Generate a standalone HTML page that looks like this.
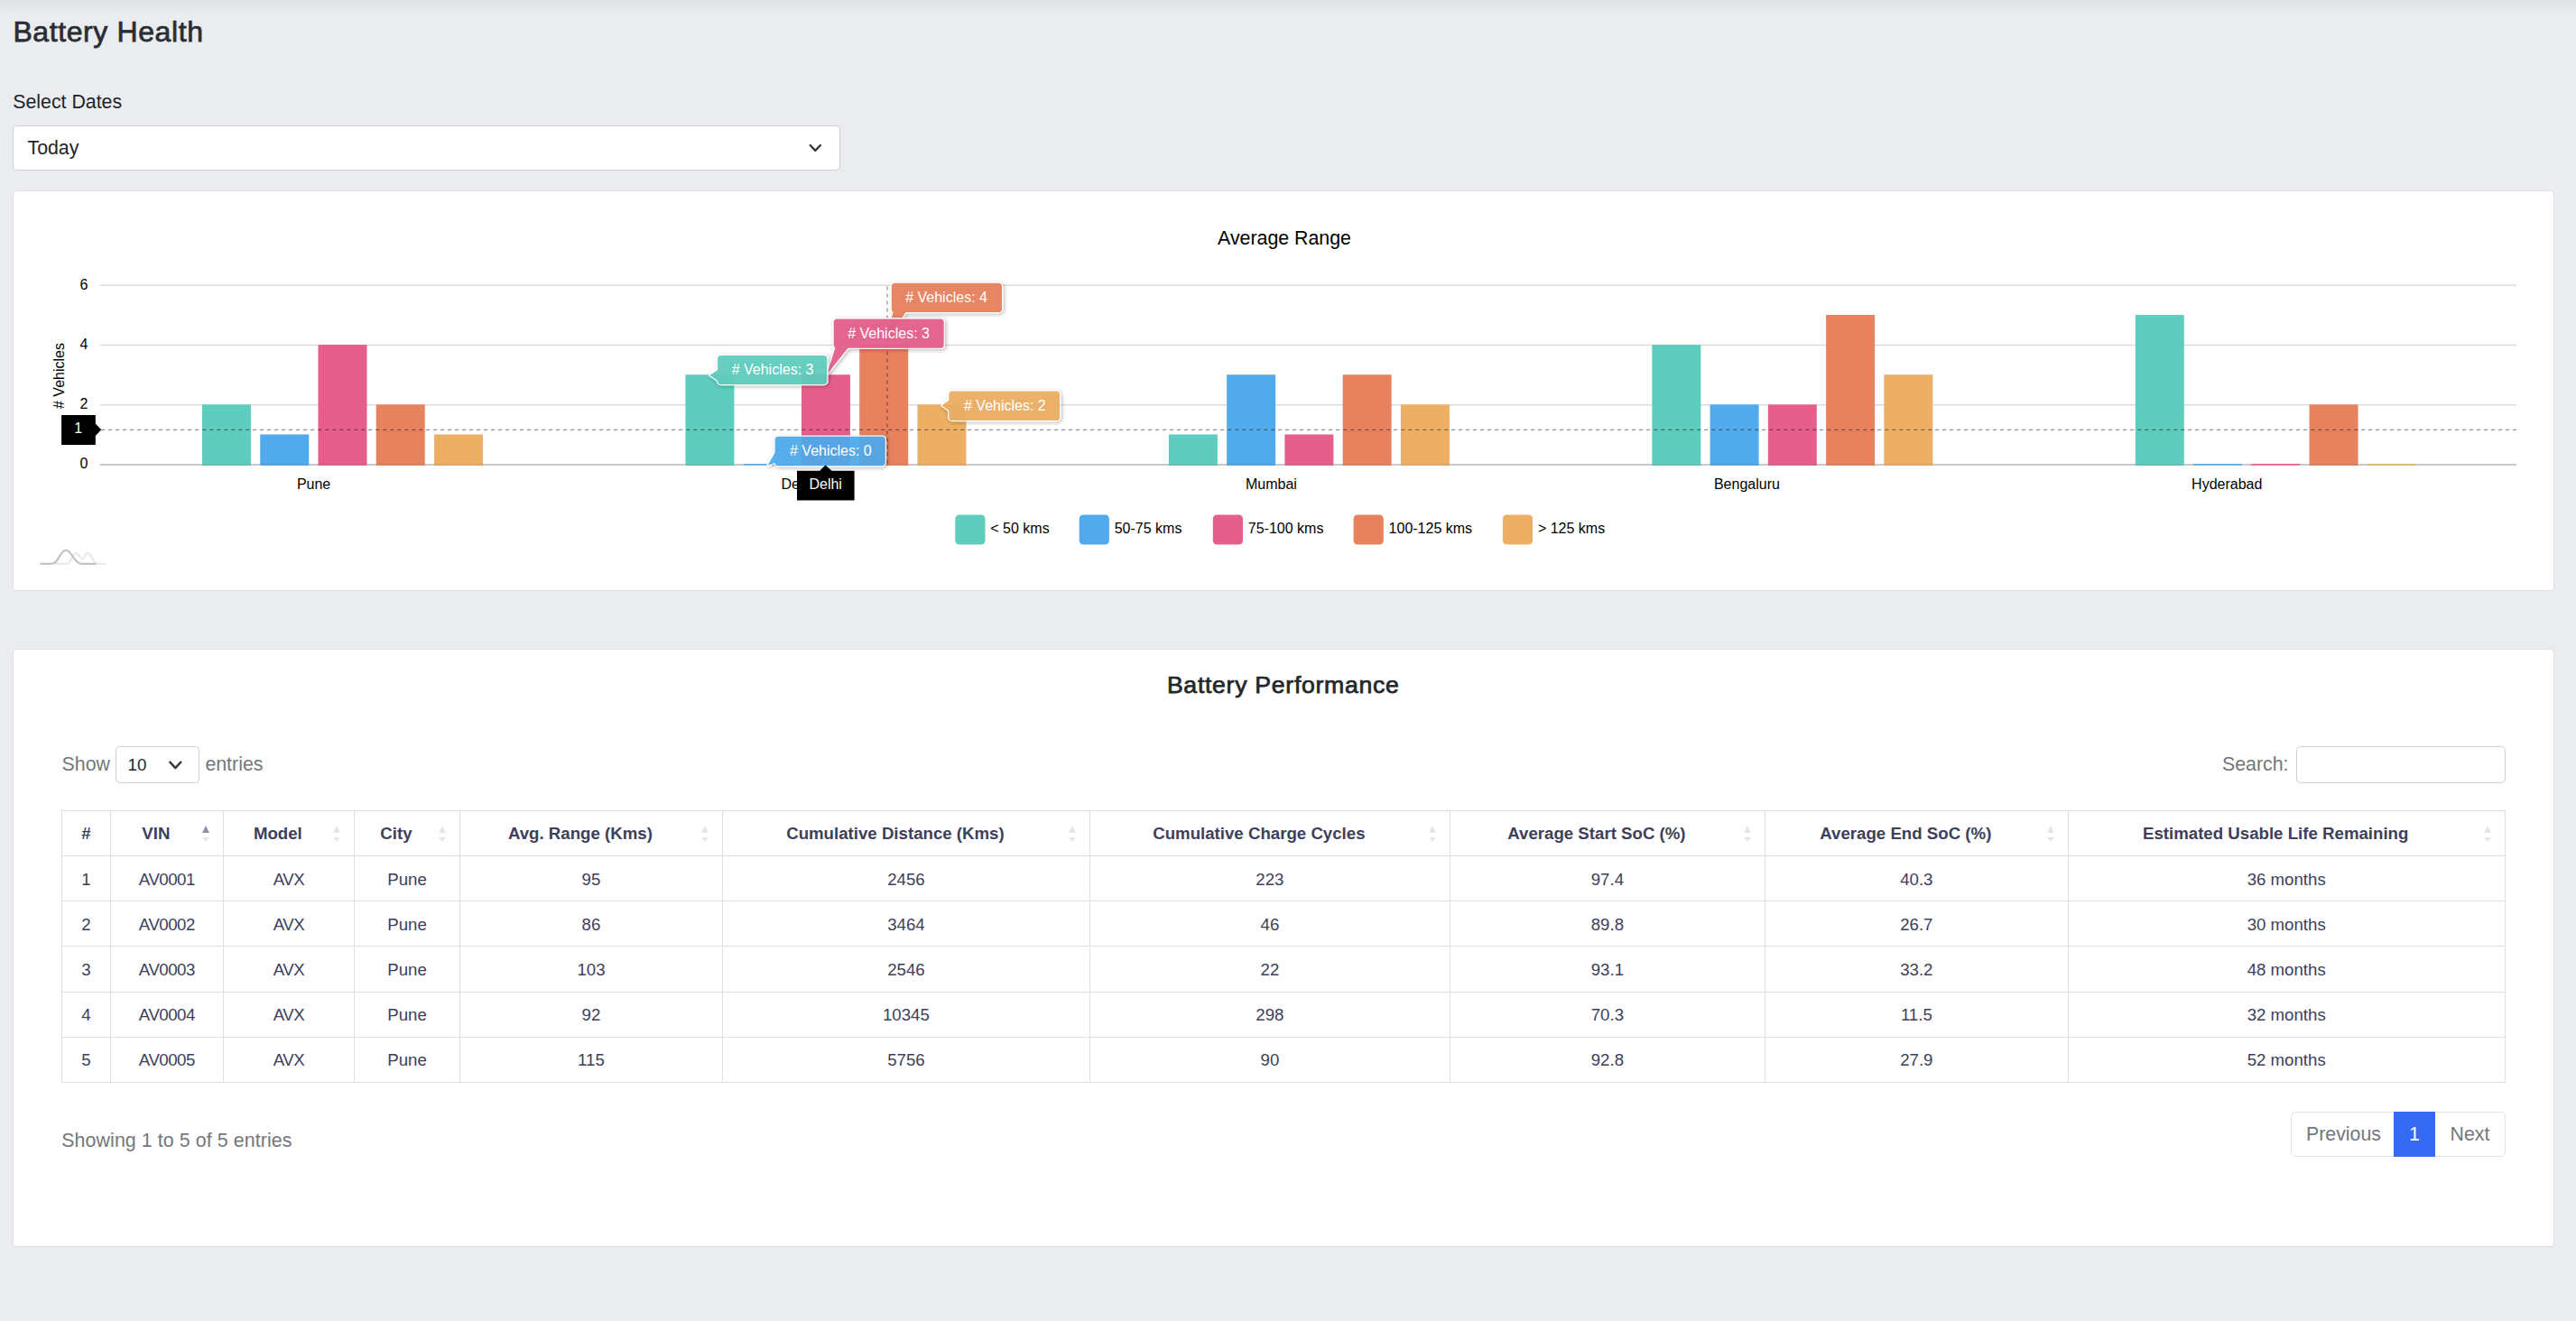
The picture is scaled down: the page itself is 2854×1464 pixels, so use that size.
<!DOCTYPE html>
<html lang="en"><head><meta charset="utf-8"><title>Battery Health</title>
<style>
html,body{margin:0;padding:0}
body{width:2854px;height:1464px;overflow:hidden;background:#ebecf0;font-family:"Liberation Sans",sans-serif;position:relative;color:#212529}
.abs,.th,.td,.hl,.vl,.su,.sd{position:absolute;white-space:nowrap}
.topshadow{left:0;top:0;width:2854px;height:16px;background:linear-gradient(#e0e1e4,#ebecf0)}
h1{position:absolute;margin:0;left:14.4px;top:15.4px;font-size:32px;line-height:40px;font-weight:normal;color:#2a2e34;-webkit-text-stroke:0.75px #2a2e34;letter-spacing:0.6px;white-space:nowrap}
.lbl{left:14.2px;top:99px;font-size:21.33px;line-height:28px;color:#212529}
.sel{left:13.9px;top:138.8px;width:917px;height:50.3px;box-sizing:border-box;border:1.33px solid #cdd1d6;border-radius:5.3px;background:#fff}
.sel span{position:absolute;left:15.6px;top:9.9px;font-size:21.33px;line-height:28px;color:#212529}
.card{box-sizing:border-box;background:#fff;border:1.33px solid #dfe1e6;border-radius:4.6px}
svg text.ct{font-family:"Liberation Sans",sans-serif;font-size:16px;fill:#000}
.h5{left:0;width:2843.5px;text-align:center;top:741.6px;font-size:26.67px;line-height:34px;font-weight:normal;color:#23272b;-webkit-text-stroke:0.75px #23272b;letter-spacing:0.7px}
.gray{color:#73777b;font-size:21.33px;line-height:28px}
.hl{left:67.7px;width:2708px;height:1.2px;background:#dedfe3}
.vl{top:898.25px;height:301.3px;width:1.2px;background:#dedfe3}
.th{top:909.5px;text-align:center;font-weight:bold;font-size:18.67px;line-height:28px;color:#3e4059}
.td{text-align:center;font-size:18.67px;line-height:28px;color:#3e4059}
.su{top:914.6px;width:0;height:0;border-left:4.2px solid transparent;border-right:4.2px solid transparent;border-bottom:8.4px solid #e6e6ea}
.su.act{border-bottom-color:#8f90a3}
.sd{top:927.5px;width:0;height:0;border-left:4.2px solid transparent;border-right:4.2px solid transparent;border-top:5.5px solid #e6e6ea}
.inp{box-sizing:border-box;background:#fff;border:1.33px solid #cdd1d6;border-radius:4.5px}
.pg{left:2538.4px;top:1232px;width:237.6px;height:50px;box-sizing:border-box;border:1.33px solid #dee2e6;border-radius:5.3px;background:#fff}
.pg1{left:2652px;top:1232px;width:45.8px;height:50px;background:#336af1;color:#fff;font-size:21.33px;line-height:50px;text-align:center}
</style></head>
<body>
<div class="abs topshadow"></div>
<h1>Battery Health</h1>
<div class="abs lbl">Select Dates</div>
<div class="abs sel"><span>Today</span>
<svg class="abs" style="left:878px;top:16.4px" width="20" height="16" viewBox="0 0 20 16"><path d="M4.7 5L10.3 10.8L15.9 5" fill="none" stroke="#343a40" stroke-width="2.4" stroke-linecap="round" stroke-linejoin="round"/></svg>
</div>
<div class="abs card" style="left:14.2px;top:211.2px;width:2815.6px;height:443.8px"></div>
<svg class="abs" style="left:0;top:0" width="2854" height="700" viewBox="0 0 2854 700">
<defs><filter id="sh" x="-20%" y="-40%" width="140%" height="200%"><feDropShadow dx="1.3" dy="1.3" stdDeviation="2" flood-color="#000" flood-opacity="0.3"/></filter></defs>
<line x1="110.75" x2="2788.0" y1="316.25" y2="316.25" stroke="#dcdcdc" stroke-width="1.5"/>
<line x1="110.75" x2="2788.0" y1="382.50" y2="382.50" stroke="#dcdcdc" stroke-width="1.5"/>
<line x1="110.75" x2="2788.0" y1="448.75" y2="448.75" stroke="#dcdcdc" stroke-width="1.5"/>
<text x="97.5" y="320.85" text-anchor="end" class="ct">6</text>
<text x="97.5" y="387.10" text-anchor="end" class="ct">4</text>
<text x="97.5" y="453.35" text-anchor="end" class="ct">2</text>
<text x="97.5" y="518.90" text-anchor="end" class="ct">0</text>
<text transform="translate(70.6,416.5) rotate(-90)" text-anchor="middle" class="ct">#&#160;Vehicles</text>
<text x="1423" y="270.6" text-anchor="middle" class="ct" style="font-size:21.33px">Average Range</text>
<line x1="110.75" x2="2788.0" y1="515.0" y2="515.0" stroke="#cacaca" stroke-width="2"/>
<rect x="224.00" y="448.35" width="54.0" height="67.45" fill="#5fcdbe"/>
<rect x="224.00" y="514.00" width="54.0" height="1.8" fill="#000" fill-opacity="0.06"/>
<rect x="288.25" y="481.48" width="54.0" height="34.32" fill="#50aaec"/>
<rect x="288.25" y="514.00" width="54.0" height="1.8" fill="#000" fill-opacity="0.06"/>
<rect x="352.50" y="382.10" width="54.0" height="133.70" fill="#e65f8c"/>
<rect x="352.50" y="514.00" width="54.0" height="1.8" fill="#000" fill-opacity="0.06"/>
<rect x="416.75" y="448.35" width="54.0" height="67.45" fill="#e7825e"/>
<rect x="416.75" y="514.00" width="54.0" height="1.8" fill="#000" fill-opacity="0.06"/>
<rect x="481.00" y="481.48" width="54.0" height="34.32" fill="#ecaf64"/>
<rect x="481.00" y="514.00" width="54.0" height="1.8" fill="#000" fill-opacity="0.06"/>
<rect x="759.45" y="415.23" width="54.0" height="100.58" fill="#5fcdbe"/>
<rect x="759.45" y="514.00" width="54.0" height="1.8" fill="#000" fill-opacity="0.06"/>
<rect x="823.70" y="514.10" width="54.0" height="1.5" fill="#50aaec"/>
<rect x="887.95" y="415.23" width="54.0" height="100.58" fill="#e65f8c"/>
<rect x="887.95" y="514.00" width="54.0" height="1.8" fill="#000" fill-opacity="0.06"/>
<rect x="952.20" y="382.10" width="54.0" height="133.70" fill="#e7825e"/>
<rect x="952.20" y="514.00" width="54.0" height="1.8" fill="#000" fill-opacity="0.06"/>
<rect x="1016.45" y="448.35" width="54.0" height="67.45" fill="#ecaf64"/>
<rect x="1016.45" y="514.00" width="54.0" height="1.8" fill="#000" fill-opacity="0.06"/>
<rect x="1294.90" y="481.48" width="54.0" height="34.32" fill="#5fcdbe"/>
<rect x="1294.90" y="514.00" width="54.0" height="1.8" fill="#000" fill-opacity="0.06"/>
<rect x="1359.15" y="415.23" width="54.0" height="100.58" fill="#50aaec"/>
<rect x="1359.15" y="514.00" width="54.0" height="1.8" fill="#000" fill-opacity="0.06"/>
<rect x="1423.40" y="481.48" width="54.0" height="34.32" fill="#e65f8c"/>
<rect x="1423.40" y="514.00" width="54.0" height="1.8" fill="#000" fill-opacity="0.06"/>
<rect x="1487.65" y="415.23" width="54.0" height="100.58" fill="#e7825e"/>
<rect x="1487.65" y="514.00" width="54.0" height="1.8" fill="#000" fill-opacity="0.06"/>
<rect x="1551.90" y="448.35" width="54.0" height="67.45" fill="#ecaf64"/>
<rect x="1551.90" y="514.00" width="54.0" height="1.8" fill="#000" fill-opacity="0.06"/>
<rect x="1830.35" y="382.10" width="54.0" height="133.70" fill="#5fcdbe"/>
<rect x="1830.35" y="514.00" width="54.0" height="1.8" fill="#000" fill-opacity="0.06"/>
<rect x="1894.60" y="448.35" width="54.0" height="67.45" fill="#50aaec"/>
<rect x="1894.60" y="514.00" width="54.0" height="1.8" fill="#000" fill-opacity="0.06"/>
<rect x="1958.85" y="448.35" width="54.0" height="67.45" fill="#e65f8c"/>
<rect x="1958.85" y="514.00" width="54.0" height="1.8" fill="#000" fill-opacity="0.06"/>
<rect x="2023.10" y="348.98" width="54.0" height="166.83" fill="#e7825e"/>
<rect x="2023.10" y="514.00" width="54.0" height="1.8" fill="#000" fill-opacity="0.06"/>
<rect x="2087.35" y="415.23" width="54.0" height="100.58" fill="#ecaf64"/>
<rect x="2087.35" y="514.00" width="54.0" height="1.8" fill="#000" fill-opacity="0.06"/>
<rect x="2365.80" y="348.98" width="54.0" height="166.83" fill="#5fcdbe"/>
<rect x="2365.80" y="514.00" width="54.0" height="1.8" fill="#000" fill-opacity="0.06"/>
<rect x="2430.05" y="514.10" width="54.0" height="1.5" fill="#50aaec"/>
<rect x="2494.30" y="514.10" width="54.0" height="1.5" fill="#e65f8c"/>
<rect x="2558.55" y="448.35" width="54.0" height="67.45" fill="#e7825e"/>
<rect x="2558.55" y="514.00" width="54.0" height="1.8" fill="#000" fill-opacity="0.06"/>
<rect x="2622.80" y="514.10" width="54.0" height="1.5" fill="#ecaf64"/>
<text x="366.27" y="542" text-anchor="end" class="ct">Pune</text>
<text x="901.90" y="542" text-anchor="end" class="ct">Delhi</text>
<text x="1436.90" y="542" text-anchor="end" class="ct">Mumbai</text>
<text x="1971.90" y="542" text-anchor="end" class="ct">Bengaluru</text>
<text x="2506.40" y="542" text-anchor="end" class="ct">Hyderabad</text>
<line x1="110.75" x2="2788.0" y1="476.25" y2="476.25" stroke="#000" stroke-opacity="0.43" stroke-width="1.25" stroke-dasharray="4 4" stroke-dashoffset="-1.5"/>
<line x1="983" x2="983" y1="316" y2="515.0" stroke="#000" stroke-opacity="0.43" stroke-width="1.25" stroke-dasharray="4 4" stroke-dashoffset="-1.5"/>
<rect x="1058.3" y="570.5" width="33.2" height="33" rx="4.5" fill="#5fcdbe"/>
<text x="1097.3" y="591.2" class="ct">&lt; 50 kms</text>
<rect x="1195.7" y="570.5" width="33.2" height="33" rx="4.5" fill="#50aaec"/>
<text x="1234.7" y="591.2" class="ct">50-75 kms</text>
<rect x="1343.8" y="570.5" width="33.2" height="33" rx="4.5" fill="#e65f8c"/>
<text x="1382.8" y="591.2" class="ct">75-100 kms</text>
<rect x="1499.6" y="570.5" width="33.2" height="33" rx="4.5" fill="#e7825e"/>
<text x="1538.6" y="591.2" class="ct">100-125 kms</text>
<rect x="1664.9" y="570.5" width="33.2" height="33" rx="4.5" fill="#ecaf64"/>
<text x="1703.9" y="591.2" class="ct">&gt; 125 kms</text>
<path d="M68.1 460H105.8V469.6L112.2 476.25L105.8 482.9V493H68.1Z" fill="#000"/>
<text x="86.8" y="480.2" text-anchor="middle" class="ct" fill="#fff" style="fill:#fff">1</text>
<g filter="url(#sh)"><g opacity="0.93"><polygon points="989.80,345.00 979.00,382.50 1004.30,345.00" fill="#e7825e" stroke="#fff" stroke-width="2.6" stroke-linejoin="round"/><rect x="987.8" y="313.8" width="122.20" height="32.20" rx="3.6" fill="#e7825e" stroke="#fff" stroke-width="2.6"/><polygon points="989.80,345.00 979.00,382.50 1004.30,345.00" fill="#e7825e"/><rect x="987.8" y="313.8" width="122.20" height="32.20" rx="3.6" fill="#e7825e"/></g></g>
<text x="1003.2" y="335" class="ct" style="fill:#fff"># Vehicles: 4</text>
<g filter="url(#sh)"><g opacity="0.93"><polygon points="925.60,384.70 916.50,414.50 940.20,384.70" fill="#e65f8c" stroke="#fff" stroke-width="2.6" stroke-linejoin="round"/><rect x="923.7" y="353.4" width="122.00" height="32.30" rx="3.6" fill="#e65f8c" stroke="#fff" stroke-width="2.6"/><polygon points="925.60,384.70 916.50,414.50 940.20,384.70" fill="#e65f8c"/><rect x="923.7" y="353.4" width="122.00" height="32.30" rx="3.6" fill="#e65f8c"/></g></g>
<text x="939.2" y="374.8" class="ct" style="fill:#fff"># Vehicles: 3</text>
<g filter="url(#sh)"><g opacity="0.93"><polygon points="796.10,409.60 786.30,415.80 796.10,422.40" fill="#5fcdbe" stroke="#fff" stroke-width="2.6" stroke-linejoin="round"/><rect x="795.1" y="393.9" width="121.20" height="32.00" rx="3.6" fill="#5fcdbe" stroke="#fff" stroke-width="2.6"/><polygon points="796.10,409.60 786.30,415.80 796.10,422.40" fill="#5fcdbe"/><rect x="795.1" y="393.9" width="121.20" height="32.00" rx="3.6" fill="#5fcdbe"/></g></g>
<text x="810.7" y="414.6" class="ct" style="fill:#fff"># Vehicles: 3</text>
<g filter="url(#sh)"><g opacity="0.93"><polygon points="1052.30,442.90 1043.50,449.20 1052.30,455.80" fill="#ecaf64" stroke="#fff" stroke-width="2.6" stroke-linejoin="round"/><rect x="1051.3" y="433.6" width="122.70" height="32.40" rx="3.6" fill="#ecaf64" stroke="#fff" stroke-width="2.6"/><polygon points="1052.30,442.90 1043.50,449.20 1052.30,455.80" fill="#ecaf64"/><rect x="1051.3" y="433.6" width="122.70" height="32.40" rx="3.6" fill="#ecaf64"/></g></g>
<text x="1068" y="454.6" class="ct" style="fill:#fff"># Vehicles: 2</text>
<g filter="url(#sh)"><g opacity="0.93"><polygon points="859.60,499.90 850.70,515.60 859.60,512.70" fill="#50aaec" stroke="#fff" stroke-width="2.6" stroke-linejoin="round"/><rect x="858.6" y="483.7" width="122.20" height="32.50" rx="3.6" fill="#50aaec" stroke="#fff" stroke-width="2.6"/><polygon points="859.60,499.90 850.70,515.60 859.60,512.70" fill="#50aaec"/><rect x="858.6" y="483.7" width="122.20" height="32.50" rx="3.6" fill="#50aaec"/></g></g>
<text x="875" y="504.6" class="ct" style="fill:#fff"># Vehicles: 0</text>
<path d="M883 521.8H908.2L914.5 515.4L921.5 521.8H946.6V554.5H883Z" fill="#000"/>
<text x="914.7" y="541.8" text-anchor="middle" class="ct" style="fill:#fff">Delhi</text>
<path d="M73.5 624.8C79 624.8 80 613 84.5 613C88 613 88 619.5 91.2 619.5C94 619.5 94 612.7 97 612.7C101 612.7 103 624.8 108 624.8H116.5M60 624.8H73.5" fill="none" stroke="#e7e7e7" stroke-width="2.1" stroke-linecap="round" stroke-linejoin="round"/>
<path d="M45.5 624.8H57C65 624.8 66.5 609.8 73 609.8C79.5 609.8 82 624.8 90 624.8H106" fill="none" stroke="#c2c2c2" stroke-width="2.2" stroke-linecap="round" stroke-linejoin="round"/>
</svg>
<div class="abs card" style="left:14.2px;top:718.8px;width:2815.6px;height:663.2px"></div>
<div class="abs h5">Battery Performance</div>
<div class="abs gray" style="left:68.6px;top:833.3px">Show</div>
<div class="abs inp" style="left:128.2px;top:827.2px;width:92.6px;height:40.6px"><span class="abs" style="left:12.4px;top:5.8px;font-size:18.67px;line-height:28px;color:#212529">10</span>
<svg class="abs" style="left:54.5px;top:11.6px" width="20" height="16" viewBox="0 0 20 16"><path d="M4.3 4.6L10.3 11.1L16.3 4.6" fill="none" stroke="#343a40" stroke-width="2.4" stroke-linecap="round" stroke-linejoin="round"/></svg></div>
<div class="abs gray" style="left:227.4px;top:833.3px">entries</div>
<div class="abs gray" style="left:2462px;top:833.3px">Search:</div>
<div class="abs inp" style="left:2544.2px;top:827.2px;width:232px;height:40.6px"></div>
<div class="hl" style="top:897.65px"></div>
<div class="hl" style="top:947.90px"></div>
<div class="hl" style="top:997.90px"></div>
<div class="hl" style="top:1048.15px"></div>
<div class="hl" style="top:1098.65px"></div>
<div class="hl" style="top:1148.65px"></div>
<div class="hl" style="top:1198.90px"></div>
<div class="vl" style="left:67.65px"></div>
<div class="vl" style="left:121.90px"></div>
<div class="vl" style="left:246.65px"></div>
<div class="vl" style="left:391.90px"></div>
<div class="vl" style="left:508.90px"></div>
<div class="vl" style="left:799.80px"></div>
<div class="vl" style="left:1206.90px"></div>
<div class="vl" style="left:1605.70px"></div>
<div class="vl" style="left:1954.90px"></div>
<div class="vl" style="left:2290.60px"></div>
<div class="vl" style="left:2774.60px"></div>
<div class="th" style="left:68.25px;width:54.25px">#</div>
<div class="th" style="left:133.17px;width:79.41px">VIN</div>
<div class="su act" style="left:223.95px"></div><div class="sd" style="left:223.95px"></div>
<div class="th" style="left:257.92px;width:99.91000000000001px">Model</div>
<div class="su" style="left:369.2px"></div><div class="sd" style="left:369.2px"></div>
<div class="th" style="left:403.17px;width:71.66px">City</div>
<div class="su" style="left:486.2px"></div><div class="sd" style="left:486.2px"></div>
<div class="th" style="left:520.17px;width:245.55999999999995px">Avg. Range (Kms)</div>
<div class="su" style="left:777.1px"></div><div class="sd" style="left:777.1px"></div>
<div class="th" style="left:811.0699999999999px;width:361.76px">Cumulative Distance (Kms)</div>
<div class="su" style="left:1184.2px"></div><div class="sd" style="left:1184.2px"></div>
<div class="th" style="left:1218.17px;width:353.4599999999999px">Cumulative Charge Cycles</div>
<div class="su" style="left:1583.0px"></div><div class="sd" style="left:1583.0px"></div>
<div class="th" style="left:1616.97px;width:303.86px">Average Start SoC (%)</div>
<div class="su" style="left:1932.2px"></div><div class="sd" style="left:1932.2px"></div>
<div class="th" style="left:1966.17px;width:290.3599999999998px">Average End SoC (%)</div>
<div class="su" style="left:2267.8999999999996px"></div><div class="sd" style="left:2267.8999999999996px"></div>
<div class="th" style="left:2301.87px;width:438.65999999999997px">Estimated Usable Life Remaining</div>
<div class="su" style="left:2751.8999999999996px"></div><div class="sd" style="left:2751.8999999999996px"></div>
<div class="td" style="left:68.25px;width:54.25px;top:960.50px">1</div>
<div class="td" style="left:122.5px;width:124.75px;top:960.50px;letter-spacing:-0.5px">AV0001</div>
<div class="td" style="left:247.25px;width:145.25px;top:960.50px;letter-spacing:-0.5px">AVX</div>
<div class="td" style="left:392.5px;width:117.0px;top:960.50px">Pune</div>
<div class="td" style="left:509.5px;width:290.9px;top:960.50px">95</div>
<div class="td" style="left:800.4px;width:407.1px;top:960.50px">2456</div>
<div class="td" style="left:1207.5px;width:398.79999999999995px;top:960.50px">223</div>
<div class="td" style="left:1606.3px;width:349.20000000000005px;top:960.50px">97.4</div>
<div class="td" style="left:1955.5px;width:335.6999999999998px;top:960.50px">40.3</div>
<div class="td" style="left:2291.2px;width:484.0px;top:960.50px">36 months</div>
<div class="td" style="left:68.25px;width:54.25px;top:1010.62px">2</div>
<div class="td" style="left:122.5px;width:124.75px;top:1010.62px;letter-spacing:-0.5px">AV0002</div>
<div class="td" style="left:247.25px;width:145.25px;top:1010.62px;letter-spacing:-0.5px">AVX</div>
<div class="td" style="left:392.5px;width:117.0px;top:1010.62px">Pune</div>
<div class="td" style="left:509.5px;width:290.9px;top:1010.62px">86</div>
<div class="td" style="left:800.4px;width:407.1px;top:1010.62px">3464</div>
<div class="td" style="left:1207.5px;width:398.79999999999995px;top:1010.62px">46</div>
<div class="td" style="left:1606.3px;width:349.20000000000005px;top:1010.62px">89.8</div>
<div class="td" style="left:1955.5px;width:335.6999999999998px;top:1010.62px">26.7</div>
<div class="td" style="left:2291.2px;width:484.0px;top:1010.62px">30 months</div>
<div class="td" style="left:68.25px;width:54.25px;top:1061.00px">3</div>
<div class="td" style="left:122.5px;width:124.75px;top:1061.00px;letter-spacing:-0.5px">AV0003</div>
<div class="td" style="left:247.25px;width:145.25px;top:1061.00px;letter-spacing:-0.5px">AVX</div>
<div class="td" style="left:392.5px;width:117.0px;top:1061.00px">Pune</div>
<div class="td" style="left:509.5px;width:290.9px;top:1061.00px">103</div>
<div class="td" style="left:800.4px;width:407.1px;top:1061.00px">2546</div>
<div class="td" style="left:1207.5px;width:398.79999999999995px;top:1061.00px">22</div>
<div class="td" style="left:1606.3px;width:349.20000000000005px;top:1061.00px">93.1</div>
<div class="td" style="left:1955.5px;width:335.6999999999998px;top:1061.00px">33.2</div>
<div class="td" style="left:2291.2px;width:484.0px;top:1061.00px">48 months</div>
<div class="td" style="left:68.25px;width:54.25px;top:1111.25px">4</div>
<div class="td" style="left:122.5px;width:124.75px;top:1111.25px;letter-spacing:-0.5px">AV0004</div>
<div class="td" style="left:247.25px;width:145.25px;top:1111.25px;letter-spacing:-0.5px">AVX</div>
<div class="td" style="left:392.5px;width:117.0px;top:1111.25px">Pune</div>
<div class="td" style="left:509.5px;width:290.9px;top:1111.25px">92</div>
<div class="td" style="left:800.4px;width:407.1px;top:1111.25px">10345</div>
<div class="td" style="left:1207.5px;width:398.79999999999995px;top:1111.25px">298</div>
<div class="td" style="left:1606.3px;width:349.20000000000005px;top:1111.25px">70.3</div>
<div class="td" style="left:1955.5px;width:335.6999999999998px;top:1111.25px">11.5</div>
<div class="td" style="left:2291.2px;width:484.0px;top:1111.25px">32 months</div>
<div class="td" style="left:68.25px;width:54.25px;top:1161.38px">5</div>
<div class="td" style="left:122.5px;width:124.75px;top:1161.38px;letter-spacing:-0.5px">AV0005</div>
<div class="td" style="left:247.25px;width:145.25px;top:1161.38px;letter-spacing:-0.5px">AVX</div>
<div class="td" style="left:392.5px;width:117.0px;top:1161.38px">Pune</div>
<div class="td" style="left:509.5px;width:290.9px;top:1161.38px">115</div>
<div class="td" style="left:800.4px;width:407.1px;top:1161.38px">5756</div>
<div class="td" style="left:1207.5px;width:398.79999999999995px;top:1161.38px">90</div>
<div class="td" style="left:1606.3px;width:349.20000000000005px;top:1161.38px">92.8</div>
<div class="td" style="left:1955.5px;width:335.6999999999998px;top:1161.38px">27.9</div>
<div class="td" style="left:2291.2px;width:484.0px;top:1161.38px">52 months</div>
<div class="abs gray" style="left:68.3px;top:1250px;letter-spacing:0.1px">Showing 1 to 5 of 5 entries</div>
<div class="abs pg"></div>
<div class="abs gray" style="left:2555px;top:1243px">Previous</div>
<div class="abs pg1">1</div>
<div class="abs gray" style="left:2714.6px;top:1243px">Next</div>
</body></html>
